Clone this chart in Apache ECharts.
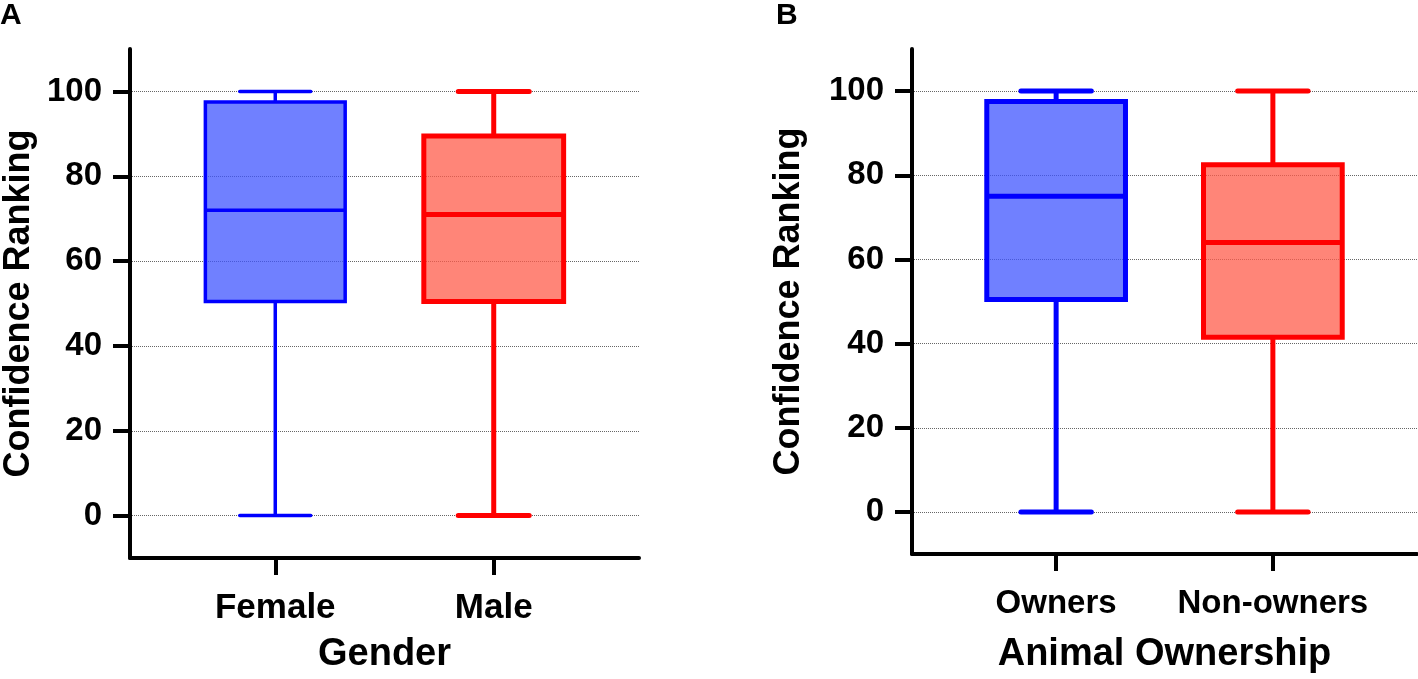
<!DOCTYPE html>
<html>
<head>
<meta charset="utf-8">
<script src="https://cdn.jsdelivr.net/npm/echarts@6/dist/echarts.min.js"></script>
<style>
  html, body { margin: 0; padding: 0; background: #fff; }
  #main { width: 1418px; height: 679px; }
</style>
</head>
<body>
<div id="main"></div>
<script>
// data: [min, Q1, median, Q3, max]
var genderCats = ['Female', 'Male'];
var genderStats = [
    [0, 50.5, 72, 97.5, 100],
    [0, 50.5, 71, 89.5, 100]
];
var ownerCats = ['Owners', 'Non-owners'];
var ownerStats = [
    [0, 50.5, 75, 97.5, 100],
    [0, 41.5, 64, 82.5, 100]
];
var yTicks = [0, 20, 40, 60, 80, 100];
var xPos = [1, 2];

(function(){
    var myChart = echarts.init(document.getElementById('main'));
    var FONT = 'Liberation Sans, Arial, sans-serif';

    // box styles per panel / category
    var styles = [
        [
            {stroke: '#0000ff', fill: 'rgba(64,86,255,0.75)', lw: 3.5},
            {stroke: '#ff0000', fill: 'rgba(255,92,75,0.75)', lw: 5}
        ],
        [
            {stroke: '#0000ff', fill: 'rgba(64,86,255,0.75)', lw: 5},
            {stroke: '#ff0000', fill: 'rgba(255,92,75,0.75)', lw: 5}
        ]
    ];

    function makeRender(panel) {
        return function(params, api) {
            var x = api.value(0);
            var st = styles[panel][params.dataIndex];
            var pMin = api.coord([x, api.value(1)]);
            var pQ1 = api.coord([x, api.value(2)]);
            var pMed = api.coord([x, api.value(3)]);
            var pQ3 = api.coord([x, api.value(4)]);
            var pMax = api.coord([x, api.value(5)]);
            var half = api.size([0.64, 0])[0] / 2;
            var cap = api.size([0.325, 0])[0] / 2;
            var cx = pMin[0];
            var lineStyle = {stroke: st.stroke, lineWidth: st.lw, fill: null};
            var capStyle = {stroke: st.stroke, lineWidth: st.lw, lineCap: 'round', fill: null};
            return {
                type: 'group',
                children: [
                    {type: 'line', shape: {x1: cx, y1: pMin[1], x2: cx, y2: pQ1[1]}, style: lineStyle},
                    {type: 'line', shape: {x1: cx, y1: pQ3[1], x2: cx, y2: pMax[1]}, style: lineStyle},
                    {type: 'line', shape: {x1: cx - cap, y1: pMin[1], x2: cx + cap, y2: pMin[1]}, style: capStyle},
                    {type: 'line', shape: {x1: cx - cap, y1: pMax[1], x2: cx + cap, y2: pMax[1]}, style: capStyle},
                    {type: 'rect', shape: {x: cx - half, y: pQ3[1], width: half * 2, height: pQ1[1] - pQ3[1]},
                        style: {fill: st.fill, stroke: st.stroke, lineWidth: st.lw}},
                    {type: 'line', shape: {x1: cx - half, y1: pMed[1], x2: cx + half, y2: pMed[1]}, style: lineStyle}
                ]
            };
        };
    }

    function xAxisOf(idx, cats, name, gap, labelSize, margin) {
        return {
            type: 'value', gridIndex: idx, min: 0.335, max: 2.665,
            name: name, nameLocation: 'middle', nameGap: gap,
            nameTextStyle: {fontSize: 38, fontWeight: 'bold', color: '#000', fontFamily: FONT},
            axisLine: {onZero: false, lineStyle: {color: '#000', width: 4}},
            axisTick: {show: true, customValues: xPos, length: 17, lineStyle: {color: '#000', width: 4}},
            axisLabel: {customValues: xPos, margin: margin, fontSize: labelSize, fontWeight: 'bold', color: '#000', fontFamily: FONT,
                formatter: function(v){ return cats[Math.round(v) - 1]; }},
            splitLine: {show: false}
        };
    }

    function yAxisOf(idx, gap) {
        return {
            type: 'value', gridIndex: idx, min: -10, max: 110,
            name: 'Confidence Ranking', nameLocation: 'middle', nameGap: gap,
            nameTextStyle: {fontSize: 36, fontWeight: 'bold', color: '#000', fontFamily: FONT},
            axisLine: {show: true, onZero: false, lineStyle: {color: '#000', width: 4}},
            axisTick: {show: true, customValues: yTicks, length: 17, lineStyle: {color: '#000', width: 4}},
            axisLabel: {customValues: yTicks, margin: 28, fontSize: 33, fontWeight: 'bold', color: '#000', fontFamily: FONT},
            splitLine: {show: true, lineStyle: {type: [1, 1], color: '#666', width: 1}}
        };
    }

    var option = {
        backgroundColor: '#fff',
        animation: false,
        graphic: [
            {type: 'text', left: 0, top: 1, style: {text: 'A', fontSize: 30, fontWeight: 'bold', fontFamily: FONT, fill: '#000'}},
            {type: 'text', left: 776, top: 1, style: {text: 'B', fontSize: 30, fontWeight: 'bold', fontFamily: FONT, fill: '#000'}}
        ],
        grid: [
            {left: 128, right: 779, top: 49, bottom: 116},
            {left: 912, right: 1, top: 49, bottom: 123}
        ],
        xAxis: [
            xAxisOf(0, genderCats, 'Gender', 78, 35, 33),
            xAxisOf(1, ownerCats, 'Animal Ownership', 82, 33, 33)
        ],
        yAxis: [
            yAxisOf(0, 93),
            yAxisOf(1, 105)
        ],
        series: [
            {
                type: 'custom', xAxisIndex: 0, yAxisIndex: 0,
                renderItem: makeRender(0),
                data: genderStats.map(function(s, i){ return [xPos[i]].concat(s); })
            },
            {
                type: 'custom', xAxisIndex: 1, yAxisIndex: 1,
                renderItem: makeRender(1),
                data: ownerStats.map(function(s, i){ return [xPos[i]].concat(s); })
            }
        ]
    };
    myChart.setOption(option);
    window.addEventListener('resize', function(){ myChart.resize(); });
})();
</script>
</body>
</html>
